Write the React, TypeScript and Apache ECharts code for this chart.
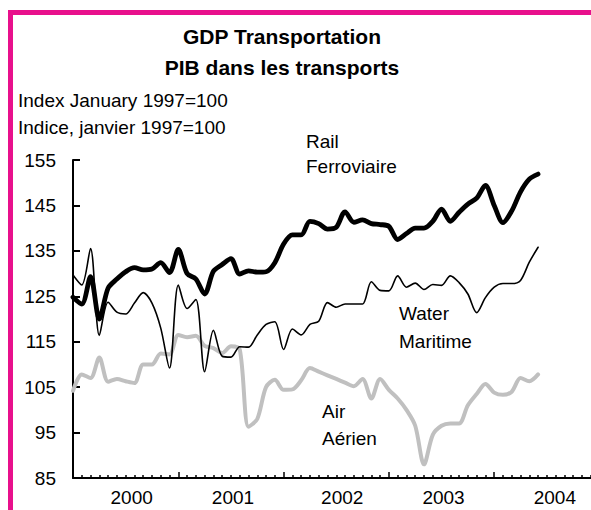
import React, { useEffect, useRef } from "react";
import * as echarts from "echarts";

const FONT = "'Liberation Sans', Arial, Helvetica, sans-serif";

// Monthly index values, Jan 2000 onward (index 0 = first month)
const rail = [
  124.8, 123.3, 129.3, 120, 126.8, 128.8, 130.4, 131.3, 130.8, 131,
  132.4, 130.2, 135.3, 130, 128.8, 125.5, 130.5, 132, 133.3, 129.9,
  130.6, 130.3, 130.4, 132.4, 136.5, 138.5, 138.5, 141.5, 141, 139.8,
  140.2, 143.6, 141.3, 141.8, 141, 140.8, 140.4, 137.5, 138.8, 140,
  140, 141.5, 144.2, 141.5, 143.5, 145.3, 146.6, 149.4, 145, 141.2,
  143.8, 148, 150.8, 151.9,
];
const water = [
  129.7, 127.5, 135.5, 116.4, 123.7, 121.5, 121.1, 123.5, 125.8, 123.5,
  118, 109.2, 127.5, 122.3, 124.3, 108.4, 117.5, 111.8, 111.6, 113.9,
  113.8, 116.5, 118.8, 119.4, 113.3, 117.8, 116.5, 118.8, 119.5, 123.6,
  122.6, 123.3, 123.3, 123.3, 128.2, 126.3, 126.2, 129.5, 127, 127.9,
  126.5, 127.6, 127.4, 129.5, 128, 125.5, 121.4, 124.7, 127, 127.8,
  127.8, 128.5, 132.5, 135.8,
];
const air = [
  104.2, 107.8, 107, 111.5, 106.2, 106.8, 106.3, 105.9, 110, 110,
  112.4, 112.2, 116.5, 116, 116.3, 114.1, 113.6, 112.5, 114, 113.3,
  96.3, 98, 105, 106.6, 104.4, 104.5, 106.5, 109.2, 108.4, 107.6,
  106.8, 106, 105.2, 106.8, 102.5, 106.8, 104.4, 102.5, 100, 96.5,
  88, 94.5, 96.5, 97, 97, 101, 103.5, 105.7, 103.8, 103.3,
  104, 107, 106.3, 107.8,
];
const years = ["2000", "2001", "2002", "2003", "2004"];
const titleLines = ["GDP Transportation", "PIB dans les transports"];
const unitLines = ["Index January 1997=100", "Indice, janvier 1997=100"];

// small horizontal nudges of the year labels (styling only)
const yearLabelPadLeft = [12, 4, 12, 4, 16];

const toPairs = (arr: number[]) => arr.map((v, i) => [i, v]);

export default function App() {
  const ref = useRef<HTMLDivElement>(null);
  useEffect(() => {
    if (!ref.current) return;
    const chart = echarts.init(ref.current, undefined, { renderer: "svg" });
    const txt = (x: number, y: number, text: string, extra: any = {}) => ({
      type: "text",
      x,
      y,
      style: {
        text,
        fill: "#000",
        font: `19px ${FONT}`,
        textAlign: "left",
        textVerticalAlign: "middle",
        ...extra,
      },
    });
    const PINK = "#E8108C";
    chart.setOption({
      animation: false,
      backgroundColor: "#fff",
      grid: { left: 73, top: 160, right: 20.5, bottom: 32, containLabel: false },
      xAxis: [
        {
          type: "value",
          min: 0,
          max: 60,
          interval: 12,
          axisLine: { show: true, lineStyle: { color: "#000", width: 2 } },
          axisTick: { show: true, inside: true, length: 6, lineStyle: { color: "#000", width: 1.5 } },
          minorTick: { show: true, splitNumber: 12, length: 3, lineStyle: { color: "#000", width: 1.5 } },
          axisLabel: { show: false },
          splitLine: { show: false },
        },
        {
          type: "category",
          data: years.map((y, i) => ({
            value: y,
            textStyle: { padding: [0, 0, 0, yearLabelPadLeft[i]] },
          })),
          position: "bottom",
          boundaryGap: true,
          axisLine: { show: false },
          axisTick: { show: false },
          axisLabel: { color: "#000", fontSize: 19, fontFamily: FONT, margin: 10 },
          splitLine: { show: false },
        },
      ],
      yAxis: {
        type: "value",
        min: 85,
        max: 155,
        interval: 10,
        axisLine: { show: true, lineStyle: { color: "#000", width: 2 } },
        axisTick: { show: true, inside: true, length: 7, lineStyle: { color: "#000", width: 2 } },
        axisLabel: { color: "#000", fontSize: 19, fontFamily: FONT, margin: 17 },
        splitLine: { show: false },
      },
      series: [
        {
          name: "Air",
          type: "line",
          data: toPairs(air),
          symbol: "none",
          smooth: 0.3,
          lineStyle: { color: "#C0C0C0", width: 4, cap: "round", join: "round" },
          z: 2,
        },
        {
          name: "Water",
          type: "line",
          data: toPairs(water),
          symbol: "none",
          smooth: 0.3,
          lineStyle: { color: "#000", width: 1.6, cap: "round", join: "round" },
          z: 3,
        },
        {
          name: "Rail",
          type: "line",
          data: toPairs(rail),
          symbol: "none",
          smooth: 0.3,
          lineStyle: { color: "#000", width: 4.8, cap: "round", join: "round" },
          z: 4,
        },
      ],
      graphic: [
        {
          type: "rect",
          shape: { x: 8, y: 10, width: 5, height: 500 },
          style: { fill: PINK },
          silent: true,
        },
        {
          type: "rect",
          shape: { x: 8, y: 10, width: 600, height: 5 },
          style: { fill: PINK },
          silent: true,
        },
        txt(282, 36, titleLines[0], { font: `bold 21px ${FONT}`, textAlign: "center" }),
        txt(282, 67, titleLines[1], { font: `bold 21px ${FONT}`, textAlign: "center" }),
        txt(18, 100, unitLines[0]),
        txt(18, 127, unitLines[1]),
        txt(306, 141, "Rail"),
        txt(306, 166, "Ferroviaire"),
        txt(399, 313, "Water"),
        txt(399, 341, "Maritime"),
        txt(322, 411, "Air"),
        txt(322, 438, "Aérien"),
      ],
    });
    return () => chart.dispose();
  }, []);
  return (
    <div
      style={{
        position: "fixed",
        left: 0,
        top: 0,
        width: 591,
        height: 510,
        overflow: "hidden",
        background: "#fff",
      }}
    >
      <div ref={ref} style={{ width: 620, height: 510 }} />
    </div>
  );
}
